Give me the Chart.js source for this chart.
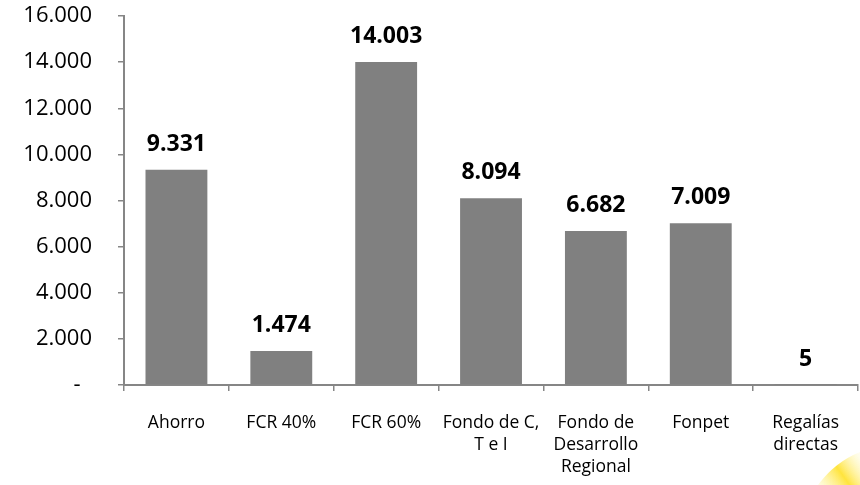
<!DOCTYPE html>
<html>
<head>
<meta charset="utf-8">
<script src="https://cdn.jsdelivr.net/npm/chart.js@4/dist/chart.umd.min.js"></script>
<style>
  html, body { margin:0; padding:0; background:#fff; }
  #wrap { width:860px; height:485px; position:relative; }
</style>
</head>
<body>
<div id="wrap"><canvas id="c" width="860" height="485"></canvas></div>
<script>
// ── DATA ──
const categories = [
  ['Ahorro'],
  ['FCR 40%'],
  ['FCR 60%'],
  ['Fondo de C,', 'T e I'],
  ['Fondo de', 'Desarrollo', 'Regional'],
  ['Fonpet'],
  ['Regalías', 'directas']
];
const values = [9331, 1474, 14003, 8094, 6682, 7009, 5];
const yTicks = [0, 2000, 4000, 6000, 8000, 10000, 12000, 14000, 16000];

const FONT = '"Open Sans", "Liberation Sans", sans-serif';
const AXIS = '#868686';

// thousands with a dot, zero shown as a dash (Excel accounting style)
const fmt = v => v === 0 ? '-\u00A0\u00A0' : String(v).replace(/\B(?=(\d{3})+(?!\d))/g, '.');

// ── PLUGINS ──
const valueLabels = {
  id: 'valueLabels',
  afterDatasetsDraw(chart) {
    const ctx = chart.ctx;
    const meta = chart.getDatasetMeta(0);
    ctx.save();
    ctx.font = 'bold 23px ' + FONT;
    ctx.fillStyle = '#000';
    ctx.textAlign = 'center';
    ctx.textBaseline = 'alphabetic';
    meta.data.forEach((bar, i) => {
      ctx.fillText(fmt(values[i]), bar.x, bar.y - 19);
    });
    ctx.restore();
  }
};

// small yellow decoration in the bottom-right corner
const corner = {
  id: 'corner',
  afterDraw(chart) {
    const ctx = chart.ctx;
    ctx.save();
    const g = ctx.createLinearGradient(818, 485, 860, 455);
    g.addColorStop(0, 'rgba(255,240,120,0.2)');
    g.addColorStop(0.5, 'rgba(255,225,40,0.9)');
    g.addColorStop(1, 'rgba(255,250,200,0.3)');
    ctx.fillStyle = g;
    ctx.beginPath();
    ctx.moveTo(818, 485);
    ctx.quadraticCurveTo(835, 462, 860, 452);
    ctx.lineTo(860, 485);
    ctx.closePath();
    ctx.fill();
    ctx.restore();
  }
};

// ── CHART ──
new Chart(document.getElementById('c'), {
  type: 'bar',
  data: {
    labels: categories,
    datasets: [{
      data: values,
      backgroundColor: '#808080',
      borderWidth: 0,
      barPercentage: 0.59,
      categoryPercentage: 1
    }]
  },
  options: {
    responsive: false,
    animation: false,
    layout: { padding: 0 },
    plugins: { legend: { display: false }, tooltip: { enabled: false } },
    scales: {
      x: {
        grid: { display: true, drawOnChartArea: false, drawTicks: true, tickLength: 6, color: AXIS, lineWidth: 1.5, offset: true },
        border: { display: true, color: AXIS, width: 2 },
        ticks: { color: '#000', font: { family: FONT, size: 17.5, lineHeight: 1.25 }, padding: 21, maxRotation: 0, autoSkip: false },
        afterFit(scale) { scale.height = 100; }
      },
      y: {
        min: 0, max: 16000,
        afterBuildTicks(scale) { scale.ticks = yTicks.map(v => ({ value: v })); },
        grid: { display: true, drawOnChartArea: false, drawTicks: true, tickLength: 6, color: AXIS, lineWidth: 1.5 },
        border: { display: true, color: AXIS, width: 2 },
        ticks: { color: '#000', font: { family: FONT, size: 22 }, padding: 26, callback: v => fmt(v) },
        afterFit(scale) {
          // fixed axis box so the plot area lines up with the reference
          scale.width = 124;
          scale.paddingTop = 16;
          scale.paddingBottom = 0;
        }
      }
    }
  },
  plugins: [valueLabels, corner]
});
</script>
</body>
</html>
